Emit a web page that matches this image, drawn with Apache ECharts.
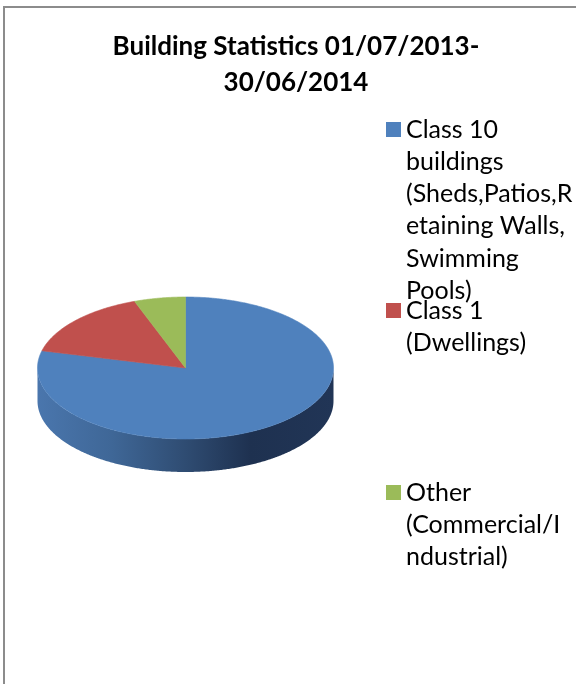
<!DOCTYPE html>
<html><head><meta charset="utf-8">
<script src="https://cdn.jsdelivr.net/npm/echarts@6/dist/echarts.min.js"></script>
<style>html,body{margin:0;padding:0;background:#fff}#c{width:576px;height:684px}</style>
</head><body><div id="c"></div>
<script>
// ---- data ----
const categories = [
  'Class 10 buildings (Sheds,Patios,Retaining Walls, Swimming Pools)',
  'Class 1 (Dwellings)',
  'Other (Commercial/Industrial)'
];
const values = [78.9, 15.5, 5.6];
const legendLabels = [
  ['Class 10', 'buildings', '(Sheds,Patios,R', 'etaining Walls,', 'Swimming', 'Pools)'],
  ['Class 1', '(Dwellings)'],
  ['Other', '(Commercial/I', 'ndustrial)']
];
const titleText = 'Building Statistics 01/07/2013-\n30/06/2014';

// ---- styling / layout ----
const colors = ['#4f81bd', '#c0504d', '#9bbb59'];
const CX = 185.5, CY = 368, RX = 148, RY = 71, DEPTH = 33;
const LH = 32.3;
const legendIconTops = [122, 303, 485];

function sideFill(i) {
  if (i === 0) {
    return {
      type: 'linear', global: true, x: CX - RX, y: 0, x2: CX + RX, y2: 0,
      colorStops: [
        { offset: 0, color: '#4a76ad' },
        { offset: 0.25, color: '#3f6797' },
        { offset: 0.5, color: '#2f4c72' },
        { offset: 0.72, color: '#1e3150' },
        { offset: 1, color: '#213556' }
      ]
    };
  }
  return ['#4f81bd', '#7a2e2c', '#617a35'][i];
}

function makeRender(i) {
  return function (params, api) {
    const total = values.reduce((a, b) => a + b, 0);
    let acc = 0;
    for (let k = 0; k < i; k++) acc += values[k];
    const a1 = -Math.PI / 2 + acc / total * 2 * Math.PI;
    const a2 = a1 + api.value(0) / total * 2 * Math.PI;
    const pt = (t, dy) => [CX + RX * Math.cos(t), CY + RY * Math.sin(t) + (dy || 0)];
    const children = [];
    [[0, Math.PI], [2 * Math.PI, 3 * Math.PI], [-2 * Math.PI, -Math.PI]].forEach(([lo, hi]) => {
      const s = Math.max(a1, lo), e = Math.min(a2, hi);
      if (e > s) {
        const M = Math.max(2, Math.ceil((e - s) / (Math.PI / 360)));
        const up = [], dn = [];
        for (let j = 0; j <= M; j++) {
          const t = s + (e - s) * j / M;
          up.push(pt(t)); dn.push(pt(t, DEPTH));
        }
        children.push({ type: 'polygon', z2: 1, shape: { points: up.concat(dn.reverse()) },
          style: { fill: sideFill(i) } });
      }
    });
    const N = Math.max(2, Math.ceil((a2 - a1) / (Math.PI / 360)));
    const top = [[CX, CY]];
    for (let j = 0; j <= N; j++) top.push(pt(a1 + (a2 - a1) * j / N));
    children.push({ type: 'polygon', z2: 10, shape: { points: top },
      style: { fill: colors[i], stroke: colors[i], lineWidth: 0.6 } });
    return { type: 'group', children };
  };
}

// legend text: blank lines are prepended so the first text line sits beside the icon
function legendText(i) {
  const lines = legendLabels[i];
  return new Array(lines.length - 1).fill('').concat(lines).join('\n');
}

const chart = echarts.init(document.getElementById('c'), null, { renderer: 'canvas' });
chart.setOption({
  backgroundColor: '#ffffff',
  animation: false,
  title: {
    text: titleText, left: 296, top: 29, padding: 0, textAlign: 'center',
    textStyle: { fontFamily: 'Lato', fontWeight: 'bold', fontSize: 26, lineHeight: 36, color: '#000' }
  },
  legend: categories.map((name, i) => {
    const n = legendLabels[i].length;
    return {
      data: [name], orient: 'vertical', left: 386,
      top: legendIconTops[i] + 7.5 - (2 * n - 1) * LH / 2,
      icon: 'rect', itemWidth: 15, itemHeight: 15, padding: 0, selectedMode: false,
      formatter: () => legendText(i),
      textStyle: { fontFamily: 'Lato', fontSize: 25, lineHeight: LH, color: '#000' }
    };
  }),
  graphic: [{
    type: 'rect', shape: { x: 4, y: 7, width: 700, height: 800 },
    style: { fill: 'none', stroke: '#8c8c8c', lineWidth: 2 }, silent: true
  }],
  series: categories.map((name, i) => ({
    type: 'custom', name, coordinateSystem: 'none',
    itemStyle: { color: colors[i] },
    data: [[values[i]]],
    renderItem: makeRender(i)
  }))
});
</script></body></html>
